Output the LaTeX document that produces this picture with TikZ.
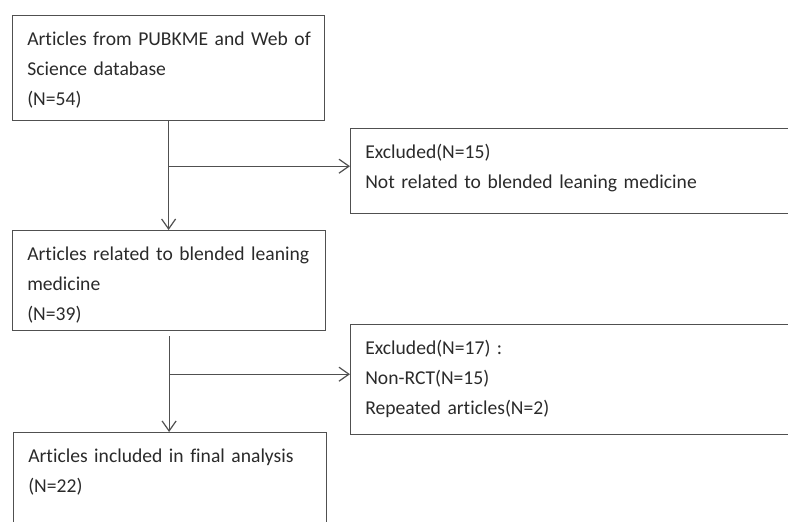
\documentclass[tikz,border=0pt]{standalone}
\usepackage{fontspec}
\setmainfont{Carlito}[Ligatures=NoCommon]
\usetikzlibrary{arrows.meta}

\definecolor{linegray}{HTML}{505050}
\definecolor{textgray}{HTML}{2A2A2A}

\tikzset{
  flowbox/.style={draw=linegray, line width=0.9pt, anchor=north west,
    inner xsep=11pt, inner ysep=0pt, align=left, text height=22.5pt,
    text=textgray, font=\fontsize{14.7pt}{22.5pt}\selectfont},
  flowline/.style={draw=linegray, line width=0.9pt}
}

\begin{document}
\begin{tikzpicture}[x=0.75pt, y=-0.75pt, >={Straight Barb[length=7.5pt,width=10.5pt]}]

    % Rahmen
    \useasboundingbox (0,0) rectangle (788,521);
    \clip (0,0) rectangle (788,521);

    % Linke Spalte
    \node[flowbox, text width=212pt, text depth=56.25pt] (src) at (12,15)
        {\mbox{Articles from PUBKME and Web of}\\Science database\\(N=54)};
    \node[flowbox, text width=212.75pt, text depth=52.5pt] (rel) at (12,230)
        {\mbox{Articles related to blended leaning}\\medicine\\(N=39)};
    \node[flowbox, text width=212.75pt, text depth=75pt] (fin) at (13,432)
        {\mbox{Articles included in final analysis}\\(N=22)};

    % Rechte Spalte
    \node[flowbox, text width=323pt, text depth=41.25pt] (exA) at (350,128)
        {Excluded(N=15)\\Not related to blended leaning medicine};
    \node[flowbox, text width=323pt, text depth=60pt] (exB) at (350,324)
        {Excluded(N=17) :\\Non-RCT(N=15)\\Repeated articles(N=2)};

    % Abzweige
    \path (src.south) ++(0,45) coordinate (j1);
    \path (rel.south) ++(0,5) coordinate (s2) ++(0,38) coordinate (j2);

    % Pfeile
    \draw[flowline, ->] (src.south) -- (src.south |- rel.north);
    \draw[flowline, ->] (j1) -- (j1 -| exA.west);
    \draw[flowline, ->] (s2) -- (s2 |- fin.north);
    \draw[flowline, ->] (j2) -- (j2 -| exB.west);

\end{tikzpicture}
\end{document}
